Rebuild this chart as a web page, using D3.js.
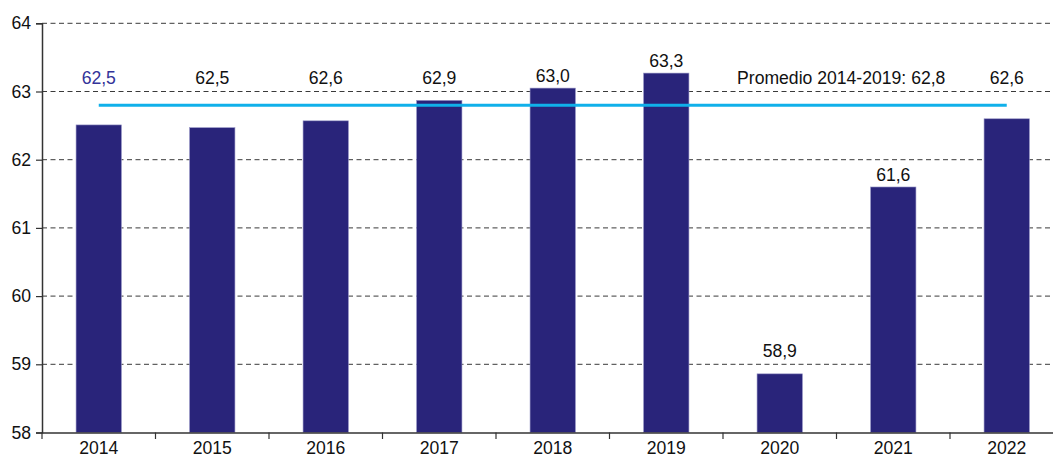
<!DOCTYPE html>
<html>
<head>
<meta charset="utf-8">
<script src="https://cdn.jsdelivr.net/npm/d3@7"></script>
<style>
  html, body { margin: 0; padding: 0; background: #fff; }
  svg { display: block; font-family: "Liberation Sans", Arial, sans-serif; }
</style>
</head>
<body>
<svg id="chart" width="1053" height="457"></svg>
<script>
// ---- data ----
const years = ["2014", "2015", "2016", "2017", "2018", "2019", "2020", "2021", "2022"];
const values = [62.51, 62.47, 62.57, 62.87, 63.05, 63.27, 58.86, 61.60, 62.60];
const valueLabels = ["62,5", "62,5", "62,6", "62,9", "63,0", "63,3", "58,9", "61,6", "62,6"];
const average = 62.8;
const averageLabel = "Promedio 2014-2019: 62,8";
const yTicks = [58, 59, 60, 61, 62, 63, 64];

// ---- layout ----
const svg = d3.select("#chart");
const mLeft = 42, mRight = 1063.5, mTop = 23.3, mBottom = 432.5;
const fs = 17.6;

const x = d3.scaleBand().domain(years).range([mLeft, mRight])
  .paddingInner(0.6).paddingOuter(0.3);
const y = d3.scaleLinear().domain([58, 64]).range([mBottom, mTop]);

// gridlines
svg.append("g").selectAll("line").data(yTicks.filter(t => t > 58)).join("line")
  .attr("x1", mLeft).attr("x2", 1053)
  .attr("y1", d => y(d)).attr("y2", d => y(d))
  .attr("stroke", "#3a3a3a").attr("stroke-width", 1)
  .attr("stroke-dasharray", "5,3.5");

// bars
svg.append("g").selectAll("rect").data(values).join("rect")
  .attr("x", (d, i) => x(years[i]))
  .attr("width", x.bandwidth())
  .attr("y", d => y(d))
  .attr("height", d => y(58) - y(d))
  .attr("fill", "#29247a")
  .attr("stroke", "#9a98c8").attr("stroke-width", 0.6);

// average line
const c0 = x(years[0]) + x.bandwidth() / 2;
const c1 = x(years[years.length - 1]) + x.bandwidth() / 2;
svg.append("line")
  .attr("x1", c0).attr("x2", c1)
  .attr("y1", y(average)).attr("y2", y(average))
  .attr("stroke", "#10b0ea").attr("stroke-width", 3);

// y axis
const yAxis = svg.append("g").attr("transform", `translate(${mLeft},0)`)
  .call(d3.axisLeft(y).tickValues(yTicks).tickSize(6).tickPadding(5).tickFormat(d3.format("d")));
yAxis.select(".domain").attr("stroke", "#333").attr("stroke-width", 1.5);
yAxis.selectAll(".tick line").attr("stroke", "#333").attr("stroke-width", 1.2);
yAxis.selectAll(".tick text").attr("font-size", fs).attr("fill", "#111")
  .attr("font-family", "'Liberation Sans', Arial, sans-serif");

// x axis
const xAxis = svg.append("g").attr("transform", `translate(0,${mBottom})`)
  .call(d3.axisBottom(x).tickSize(0).tickPadding(0));
xAxis.select(".domain").attr("stroke", "#333").attr("stroke-width", 1.5);
xAxis.selectAll(".tick text").attr("font-size", fs).attr("fill", "#111")
  .attr("font-family", "'Liberation Sans', Arial, sans-serif")
  .attr("dy", null).attr("y", 21.5);
// category boundary ticks
const bounds = d3.range(years.length + 1).map(i => mLeft + i * x.step());
svg.append("g").selectAll("line").data(bounds).join("line")
  .attr("x1", d => d).attr("x2", d => d)
  .attr("y1", mBottom).attr("y2", mBottom + 6.5)
  .attr("stroke", "#333").attr("stroke-width", 1.2);

// value labels
function labelY(v) {
  const ya = y(average);
  let ly = y(v) - 6;
  // lift labels that would collide with the average line
  if (ly > ya - 21 && ly < ya + 25) ly = ya - 21;
  // avoid a gridline crossing the text
  yTicks.forEach(t => {
    const gy = y(t);
    if (t > 58 && y(v) > ya + 25 && gy > ly - 13 && gy < ly + 2) ly = gy - 7;
  });
  return ly;
}
svg.append("g").selectAll("text").data(values).join("text")
  .attr("x", (d, i) => x(years[i]) + x.bandwidth() / 2)
  .attr("y", d => labelY(d))
  .attr("text-anchor", "middle")
  .attr("font-size", fs)
  .attr("fill", (d, i) => i === 0 ? "#333399" : "#111")
  .text((d, i) => valueLabels[i]);

// average label
svg.append("text")
  .attr("x", x(years[6]) - 20)
  .attr("y", y(average) - 21.5)
  .attr("font-size", fs).attr("fill", "#111")
  .text(averageLabel);
</script>
</body>
</html>
